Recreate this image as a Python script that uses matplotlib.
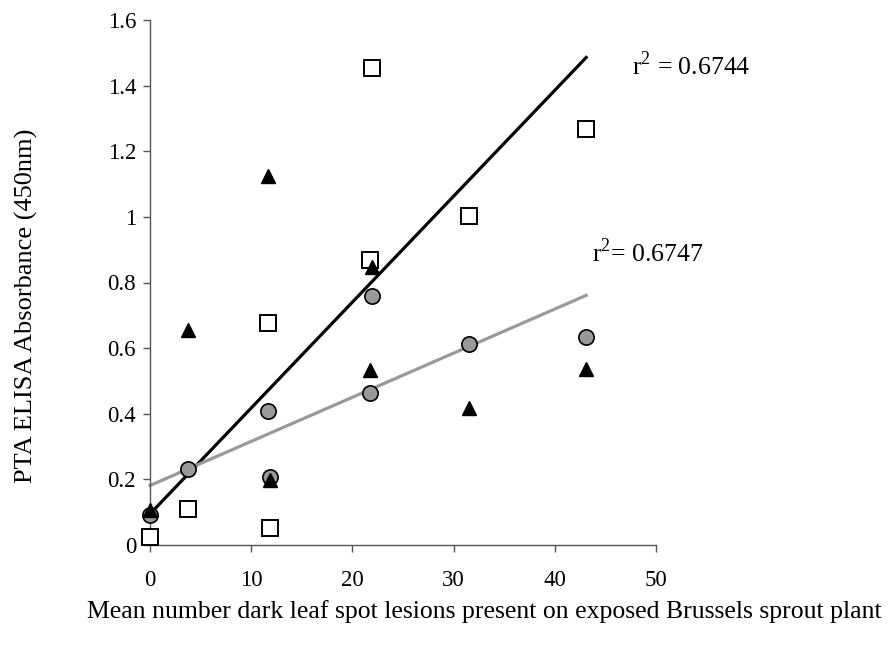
import matplotlib.pyplot as plt
import numpy as np

plt.rcParams['font.family'] = ['Liberation Serif', 'DejaVu Serif']
plt.rcParams['mathtext.fontset'] = 'custom'
plt.rcParams['mathtext.rm'] = 'Liberation Serif'

# lesion counts (x) shared by all three series
lesions = [0, 3.8, 11.7, 11.9, 21.9, 21.7, 31.5, 43.1]
squares = [0.024, 0.11, 0.677, 0.052, 1.454, 0.869, 1.003, 1.268]
circles = [0.091, 0.232, 0.409, 0.207, 0.759, 0.463, 0.613, 0.634]
triangles = [0.107, 0.655, 1.125, 0.198, 0.848, 0.534, 0.418, 0.537]

y_ticks = [0, 0.2, 0.4, 0.6, 0.8, 1.0, 1.2, 1.4, 1.6]
x_ticks = [0, 10, 20, 30, 40, 50]

fig = plt.figure(figsize=(8.92, 6.48), dpi=100)
ax = fig.add_axes([150 / 892, 103 / 648, 506 / 892, 525 / 648])

x = np.array(lesions)
xfit = np.array([min(lesions), max(lesions)])

# trendlines
m1, b1 = np.polyfit(x, squares, 1)
ax.plot(xfit, m1 * xfit + b1, color='black', lw=2.3, zorder=2)
m2, b2 = np.polyfit(x, circles, 1)
ax.plot(xfit, m2 * xfit + b2, color='#999999', lw=2.3, zorder=2)

ax.plot(lesions, squares, 's', ms=11.5, mfc='white', mec='black', mew=1.4, zorder=3)
ax.plot(lesions, circles, 'o', ms=11, mfc='#999999', mec='black', mew=1.2, zorder=4)
ax.plot(lesions, triangles, '^', ms=10, mfc='black', mec='black', zorder=5)

ax.set_xlim(0, 50)
ax.set_ylim(0, 1.6)
ax.set_xticks(x_ticks)
ax.set_yticks(y_ticks)
ax.set_yticklabels([f'{v:g}' for v in y_ticks])
ax.set_xticklabels([str(v) for v in x_ticks])

for s in ['top', 'right']:
    ax.spines[s].set_visible(False)
for s in ['left', 'bottom']:
    ax.spines[s].set_color('#555555')
    ax.spines[s].set_linewidth(1)
ax.tick_params(axis='both', direction='out', length=5, width=1, color='#555555',
               labelsize=16.5)
ax.tick_params(axis='x', pad=13)
ax.tick_params(axis='y', pad=5)
for ln in ax.lines:
    ln.set_clip_on(False)

fig.text(632 / 892, 1 - 75 / 648, r'$\mathrm{r}^{2}$ = 0.6744', fontsize=18.5, va='baseline', ha='left')
fig.text(592 / 892, 1 - 262 / 648, r'$\mathrm{r}^{2}$= 0.6747', fontsize=18.5, va='baseline', ha='left')

fig.text(484 / 892, 1 - 612 / 648, 'Mean number dark leaf spot lesions present on exposed Brussels sprout plant',
         fontsize=18.5, ha='center', va='center')
fig.text(26 / 892, 1 - 306 / 648, 'PTA ELISA Absorbance (450nm)', fontsize=19,
         rotation=90, ha='center', va='center')

fig.savefig('out.png', dpi=100)
